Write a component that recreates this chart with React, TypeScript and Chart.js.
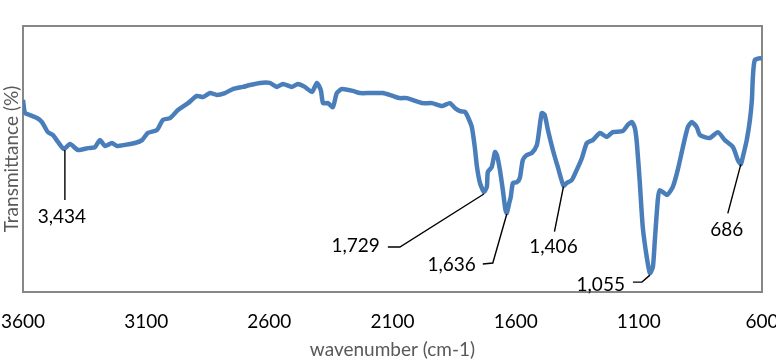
import React, { useEffect, useRef } from "react";
import { Chart, registerables } from "chart.js";

Chart.register(...registerables);

const WAVENUMBERS = [
  3600, 3592, 3572, 3543, 3523, 3499, 3478, 3458, 3434, 3409,
  3377, 3336, 3308, 3288, 3267, 3239, 3219, 3186, 3145, 3117,
  3093, 3056, 3032, 3003, 2971, 2930, 2894, 2869, 2841, 2813,
  2780, 2748, 2707, 2679, 2638, 2598, 2569, 2545, 2508, 2484,
  2456, 2427, 2407, 2391, 2382, 2362, 2342, 2326, 2305, 2261,
  2232, 2192, 2139, 2099, 2070, 2042, 1977, 1940, 1900, 1867,
  1847, 1826, 1806, 1794, 1778, 1766, 1757, 1745, 1729, 1717,
  1713, 1697, 1684, 1676, 1664, 1652, 1642, 1636, 1626, 1620,
  1611, 1595, 1583, 1571, 1555, 1534, 1514, 1506, 1494, 1482,
  1469, 1449, 1429, 1406, 1392, 1372, 1352, 1331, 1311, 1287,
  1258, 1230, 1206, 1165, 1145, 1128, 1116, 1108, 1096, 1084,
  1068, 1055, 1043, 1035, 1023, 1015, 986, 962, 942, 921,
  901, 885, 865, 852, 812, 779, 751, 718, 698, 686,
  678, 662, 649, 641, 637, 629, 600,
];

const TRANSMITTANCE = [
  72.2, 67.3, 66.5, 65.4, 63.9, 60.1, 59.0, 56.4, 53.8, 55.6,
  53.4, 54.1, 54.5, 57.1, 54.9, 56.0, 54.9, 55.3, 56.0, 57.1,
  59.8, 60.9, 64.7, 65.4, 68.4, 71.0, 73.7, 73.3, 74.8, 74.1,
  74.8, 76.3, 77.1, 77.8, 78.6, 78.6, 77.1, 78.2, 77.1, 78.2,
  77.1, 75.2, 78.6, 75.9, 71.0, 71.0, 69.5, 74.8, 76.3, 75.6,
  74.8, 74.8, 74.8, 73.7, 72.9, 72.9, 71.0, 71.0, 69.9, 71.0,
  69.2, 68.0, 67.7, 65.8, 62.0, 54.5, 47.0, 41.0, 37.6, 39.5,
  45.1, 47.0, 52.6, 51.5, 45.9, 38.3, 31.2, 29.7, 33.5, 35.7,
  41.0, 41.3, 42.9, 49.6, 51.5, 52.3, 55.3, 59.8, 67.3, 66.5,
  60.9, 53.4, 47.0, 40.0, 41.0, 42.1, 45.9, 50.4, 56.0, 57.1,
  59.8, 58.3, 60.1, 60.5, 62.8, 63.9, 61.6, 56.0, 41.0, 24.4,
  13.2, 7.1, 9.4, 19.5, 34.6, 38.3, 36.5, 39.5, 45.9, 54.5,
  62.0, 63.9, 62.0, 59.0, 57.9, 60.1, 57.1, 54.5, 49.6, 48.0,
  50.7, 57.1, 64.7, 72.2, 80.8, 87.2, 88.0,
];

const X_TICKS = [3600, 3100, 2600, 2100, 1600, 1100, 600];
const X_TICK_LABELS = ["3600", "3100", "2600", "2100", "1600", "1100", "600"];
const PEAKS = [3434, 1729, 1636, 1406, 1055, 686];
const PEAK_LABELS = ["3,434", "1,729", "1,636", "1,406", "1,055", "686"];

// leader-line layout (pixel offsets from each peak point)
const LEADER_LAYOUT = [
  { path: [[1, 1], [1, 51]], label: [-2, 68], align: "center" },
  { path: [[0, 2], [-84, 55], [-96, 55]], label: [-104, 54], align: "right" },
  { path: [[0, 1], [-14, 50], [-24, 51]], label: [-31, 52], align: "right" },
  { path: [[0, 1], [-9, 46]], label: [-10, 61], align: "center" },
  { path: [[0, 2], [-8, 9], [-17, 9]], label: [-25, 12], align: "right" },
  { path: [[0, 0], [-13, 49]], label: [-14, 66], align: "center" },
];

const FONT = "Lato, 'Open Sans', sans-serif";

const boxPlugin = {
  id: "boxPlugin",
  beforeDatasetsDraw(chart: any) {
    const { ctx, chartArea } = chart;
    ctx.save();
    ctx.strokeStyle = "#878787";
    ctx.lineWidth = 2;
    ctx.strokeRect(chartArea.left, chartArea.top, chartArea.right - chartArea.left, chartArea.bottom - chartArea.top);
    ctx.restore();
  },
};

const peakPlugin = {
  id: "peakPlugin",
  afterDatasetsDraw(chart: any) {
    const { ctx } = chart;
    const xs = chart.scales.x;
    const ys = chart.scales.y;
    ctx.save();
    ctx.strokeStyle = "#000";
    ctx.fillStyle = "#000";
    ctx.lineWidth = 1.4;
    ctx.font = `19px ${FONT}`;
    ctx.textBaseline = "middle";
    PEAKS.forEach((wn, i) => {
      const idx = WAVENUMBERS.indexOf(wn);
      const px = xs.getPixelForValue(wn);
      const py = ys.getPixelForValue(TRANSMITTANCE[idx]);
      const lay = LEADER_LAYOUT[i];
      ctx.beginPath();
      lay.path.forEach((p, j) => {
        if (j === 0) ctx.moveTo(px + p[0], py + p[1]);
        else ctx.lineTo(px + p[0], py + p[1]);
      });
      ctx.stroke();
      ctx.textAlign = lay.align;
      ctx.fillText(PEAK_LABELS[i], px + lay.label[0], py + lay.label[1]);
    });
    ctx.restore();
  },
};

export default function App() {
  const ref = useRef<HTMLCanvasElement | null>(null);
  useEffect(() => {
    if (!ref.current) return;
    const chart = new Chart(ref.current, {
      type: "line",
      data: {
        datasets: [
          {
            data: WAVENUMBERS.map((w, i) => ({ x: w, y: TRANSMITTANCE[i] })),
            borderColor: "#4a7ebb",
            borderWidth: 4.5,
            pointRadius: 0,
            tension: 0.2,
            fill: false,
          },
        ],
      },
      options: {
        animation: false,
        responsive: false,
        devicePixelRatio: 1,
        layout: { padding: { top: 26, right: 14, left: 0, bottom: 0 } },
        plugins: { legend: { display: false }, tooltip: { enabled: false } },
        scales: {
          x: {
            type: "linear",
            reverse: true,
            min: 600,
            max: 3600,
            afterBuildTicks: (s: any) => {
              s.ticks = X_TICKS.map((v) => ({ value: v }));
            },
            afterFit: (s: any) => {
              s.height = 69;
              s.paddingLeft = 0;
              s.paddingRight = 0;
            },
            grid: { display: false },
            border: { display: false },
            ticks: {
              padding: 10,
              maxRotation: 0,
              autoSkip: false,
              color: "#000",
              font: { family: FONT, size: 19 },
              callback: (v: any) => {
                const i = X_TICKS.indexOf(Number(v));
                return i >= 0 ? X_TICK_LABELS[i] : "";
              },
            },
            title: {
              display: true,
              text: "wavenumber (cm-1)",
              color: "#595959",
              font: { family: FONT, size: 19 },
              padding: 0,
            },
          },
          y: {
            min: 0,
            max: 100,
            afterFit: (s: any) => {
              s.width = 23;
            },
            grid: { display: false },
            border: { display: false },
            ticks: { display: false },
            title: {
              display: true,
              text: "Transmittance (%)",
              color: "#595959",
              font: { family: FONT, size: 19 },
              padding: 0,
            },
          },
        },
      },
      plugins: [boxPlugin, peakPlugin],
    } as any);
    return () => chart.destroy();
  }, []);
  return (
    <div style={{ position: "absolute", left: 0, top: 0, width: 776, height: 361 }}>
      <canvas ref={ref} width={776} height={361} style={{ display: "block" }} />
    </div>
  );
}
